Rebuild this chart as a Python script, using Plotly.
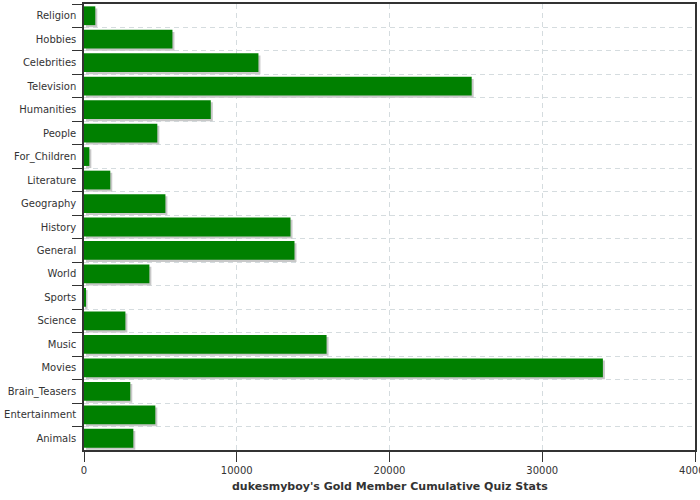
import plotly.graph_objects as go

categories = ["Religion", "Hobbies", "Celebrities", "Television", "Humanities", "People",
              "For_Children", "Literature", "Geography", "History", "General", "World",
              "Sports", "Science", "Music", "Movies", "Brain_Teasers", "Entertainment", "Animals"]
values = [740, 5790, 11420, 25380, 8300, 4800, 350, 1720, 5330, 13520, 13780, 4280,
          100, 2710, 15880, 33970, 3030, 4670, 3230]
x_ticks = [0, 10000, 20000, 30000, 40000]
x_title = "dukesmyboy's Gold Member Cumulative Quiz Stats"

fig = go.Figure()
# drop shadow
fig.add_trace(go.Bar(
    y=categories, x=values, base=130, orientation="h",
    width=0.8, offset=-0.4 + 0.09,
    marker=dict(color="#c8c8c8", line=dict(width=0)),
    hoverinfo="skip", showlegend=False,
))
fig.add_trace(go.Bar(
    y=categories, x=values, orientation="h",
    width=0.8, offset=-0.4,
    marker=dict(color="#008000", line=dict(width=0)),
    showlegend=False,
))

fig.update_layout(
    width=700, height=500,
    margin=dict(l=84, r=5, t=4, b=50, autoexpand=False),
    barmode="overlay",
    plot_bgcolor="white", paper_bgcolor="white",
    font=dict(family="DejaVu Sans", size=10, color="#333333"),
    xaxis=dict(
        range=[0, 40000], tickvals=x_ticks, ticktext=[str(t) for t in x_ticks],
        ticks="outside", ticklen=10, tickcolor="#333333",
        showline=True, linecolor="#333333", linewidth=1.5, mirror=True,
        showgrid=True, gridcolor="#d5dcdf", griddash="5px,4px", gridwidth=1,
        zeroline=False, automargin=False, ticklabeloverflow="allow",
        tickfont=dict(size=10),
    ),
    yaxis=dict(
        categoryorder="array", categoryarray=categories, autorange="reversed",
        tickson="boundaries", ticks="outside", ticklen=10, tickcolor="#333333",
        showline=True, linecolor="#333333", linewidth=1.5, mirror=True,
        showgrid=True, gridcolor="#d5dcdf", griddash="5px,4px", gridwidth=1,
        zeroline=False, automargin=False, tickfont=dict(size=10),
        ticklabelstandoff=4,
    ),
    annotations=[dict(
        text="<b>" + x_title + "</b>", x=0.5, xref="paper", y=0, yref="paper",
        xanchor="center", yanchor="top", yshift=-28, showarrow=False,
        font=dict(size=11, color="#333333"),
    )],
)

fig.write_html("out.html", config={"displayModeBar": False},
               post_script="document.body.style.margin='0';")
